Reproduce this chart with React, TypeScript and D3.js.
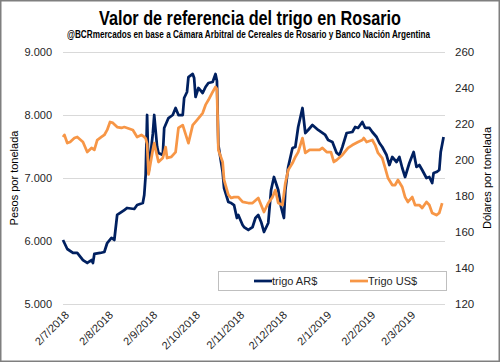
import React, { Component } from "react";
import * as d3 from "d3";

// Pesos per tonne (left axis)
const arsSeries: [string, number][] = [
  ["2018-07-02", 6016], ["2018-07-05", 5873], ["2018-07-09", 5810], ["2018-07-12", 5810],
  ["2018-07-16", 5698], ["2018-07-19", 5651], ["2018-07-22", 5698], ["2018-07-23", 5651],
  ["2018-07-24", 5794], ["2018-07-28", 5810], ["2018-07-31", 5825], ["2018-08-02", 5968],
  ["2018-08-05", 6048], ["2018-08-07", 6016], ["2018-08-09", 6413], ["2018-08-14", 6492],
  ["2018-08-16", 6524], ["2018-08-21", 6508], ["2018-08-23", 6571], ["2018-08-27", 6603],
  ["2018-08-28", 6730], ["2018-08-29", 7050], ["2018-08-30", 8000], ["2018-08-31", 7080],
  ["2018-09-03", 7700], ["2018-09-04", 8000], ["2018-09-05", 7750], ["2018-09-06", 7500],
  ["2018-09-07", 7397], ["2018-09-10", 7365], ["2018-09-11", 7794], ["2018-09-14", 7952],
  ["2018-09-17", 8000], ["2018-09-19", 8111], ["2018-09-21", 8000], ["2018-09-24", 8000],
  ["2018-09-25", 8270], ["2018-09-27", 8365], ["2018-09-28", 8603], ["2018-10-01", 8651],
  ["2018-10-02", 8587], ["2018-10-03", 8286], ["2018-10-05", 8429], ["2018-10-08", 8349],
  ["2018-10-10", 8444], ["2018-10-12", 8508], ["2018-10-15", 8524], ["2018-10-17", 8651],
  ["2018-10-18", 8540], ["2018-10-19", 7524], ["2018-10-22", 7095], ["2018-10-23", 6841],
  ["2018-10-26", 6619], ["2018-10-28", 6603], ["2018-10-30", 6571], ["2018-11-01", 6365],
  ["2018-11-02", 6413], ["2018-11-05", 6254], ["2018-11-06", 6222], ["2018-11-09", 6175],
  ["2018-11-12", 6222], ["2018-11-14", 6365], ["2018-11-16", 6413], ["2018-11-18", 6302],
  ["2018-11-20", 6143], ["2018-11-23", 6286], ["2018-11-25", 6810], ["2018-11-27", 7016],
  ["2018-11-30", 6810], ["2018-12-02", 6540], ["2018-12-04", 6365], ["2018-12-05", 6810],
  ["2018-12-07", 7175], ["2018-12-10", 7476], ["2018-12-12", 7492], ["2018-12-14", 7810],
  ["2018-12-17", 8111], ["2018-12-19", 7714], ["2018-12-21", 7762], ["2018-12-24", 7841],
  ["2018-12-28", 7762], ["2019-01-02", 7683], ["2019-01-04", 7603], ["2019-01-07", 7571],
  ["2019-01-10", 7397], ["2019-01-12", 7365], ["2019-01-14", 7492], ["2019-01-17", 7714],
  ["2019-01-21", 7730], ["2019-01-23", 7810], ["2019-01-25", 7794], ["2019-01-28", 7889],
  ["2019-01-30", 7794], ["2019-02-02", 7794], ["2019-02-04", 7730], ["2019-02-07", 7651],
  ["2019-02-09", 7556], ["2019-02-11", 7492], ["2019-02-14", 7365], ["2019-02-16", 7206],
  ["2019-02-18", 7333], ["2019-02-21", 7254], ["2019-02-23", 7333], ["2019-02-25", 7159],
  ["2019-02-27", 7016], ["2019-03-02", 7238], ["2019-03-05", 7413], ["2019-03-07", 7175],
  ["2019-03-09", 7206], ["2019-03-11", 7127], ["2019-03-14", 7000], ["2019-03-16", 7016],
  ["2019-03-18", 6921], ["2019-03-19", 7079], ["2019-03-21", 7095], ["2019-03-23", 7127],
  ["2019-03-24", 7413], ["2019-03-26", 7651],
];

// Dollars per tonne (right axis)
const usdSeries: [string, number][] = [
  ["2018-07-02", 212.8], ["2018-07-03", 213.9], ["2018-07-05", 209.4], ["2018-07-07", 210],
  ["2018-07-10", 212.2], ["2018-07-12", 212.8], ["2018-07-16", 210], ["2018-07-19", 204.4],
  ["2018-07-22", 206.7], ["2018-07-24", 205.6], ["2018-07-26", 211.1], ["2018-07-29", 212.8],
  ["2018-07-31", 213.9], ["2018-08-02", 216.7], ["2018-08-04", 221.1], ["2018-08-06", 220.6],
  ["2018-08-09", 218.3], ["2018-08-12", 217.8], ["2018-08-14", 218.3], ["2018-08-16", 217.8],
  ["2018-08-20", 216.7], ["2018-08-23", 212.8], ["2018-08-26", 213.9], ["2018-08-28", 212.8],
  ["2018-08-29", 212], ["2018-08-30", 209], ["2018-08-31", 192], ["2018-09-03", 205.6],
  ["2018-09-04", 209.4], ["2018-09-07", 198.9], ["2018-09-10", 201.1], ["2018-09-12", 207.2],
  ["2018-09-13", 201.1], ["2018-09-16", 201.7], ["2018-09-19", 204.4], ["2018-09-21", 217.8],
  ["2018-09-24", 219.4], ["2018-09-28", 209.4], ["2018-10-01", 219.4], ["2018-10-04", 222.2],
  ["2018-10-08", 226.1], ["2018-10-10", 230.6], ["2018-10-12", 233.3], ["2018-10-15", 237.8],
  ["2018-10-17", 240.6], ["2018-10-18", 239.4], ["2018-10-19", 205.6], ["2018-10-22", 198.9],
  ["2018-10-23", 189], ["2018-10-26", 180.6], ["2018-10-28", 178.9], ["2018-10-30", 179.4],
  ["2018-11-02", 179.4], ["2018-11-05", 176.7], ["2018-11-09", 176.1], ["2018-11-12", 176.1],
  ["2018-11-16", 178.9], ["2018-11-20", 171.1], ["2018-11-23", 176.1], ["2018-11-26", 179.4],
  ["2018-11-28", 183.3], ["2018-11-30", 176.1], ["2018-12-03", 175], ["2018-12-05", 187.2],
  ["2018-12-07", 194.4], ["2018-12-10", 198.3], ["2018-12-12", 201.7], ["2018-12-14", 204.4],
  ["2018-12-17", 212.2], ["2018-12-19", 203.9], ["2018-12-22", 205.6], ["2018-12-26", 205.6],
  ["2018-12-29", 205.6], ["2018-12-31", 206.7], ["2019-01-03", 204.4], ["2019-01-06", 204.4],
  ["2019-01-08", 198.9], ["2019-01-10", 200], ["2019-01-14", 202.8], ["2019-01-18", 206.7],
  ["2019-01-21", 208.3], ["2019-01-25", 210], ["2019-01-28", 211.1], ["2019-01-29", 212.2],
  ["2019-01-31", 210], ["2019-02-04", 211.1], ["2019-02-06", 208.3], ["2019-02-08", 203.9],
  ["2019-02-11", 201.1], ["2019-02-13", 195.6], ["2019-02-15", 190], ["2019-02-18", 186.1],
  ["2019-02-20", 186.1], ["2019-02-22", 188.9], ["2019-02-25", 185], ["2019-02-27", 179.4],
  ["2019-03-01", 176.7], ["2019-03-04", 179.4], ["2019-03-06", 175], ["2019-03-09", 175],
  ["2019-03-11", 173.3], ["2019-03-14", 176.7], ["2019-03-16", 175], ["2019-03-18", 170.6],
  ["2019-03-21", 169.4], ["2019-03-23", 170.6], ["2019-03-25", 176.1],
];

const xTickDates = [
  "2018-07-02", "2018-08-02", "2018-09-02", "2018-10-02", "2018-11-02",
  "2018-12-02", "2019-01-02", "2019-02-02", "2019-03-02",
];
const leftTicks = [5000, 6000, 7000, 8000, 9000];
const rightTicks = [120, 140, 160, 180, 200, 220, 240, 260];
const seriesNames = ["trigo AR$", "Trigo US$"];

const NAVY = "#002060";
const ORANGE = "#F79646";
const FONT = "'Liberation Sans', Arial, sans-serif";

class App extends Component {
  svgRef = React.createRef<SVGSVGElement>();

  componentDidMount() {
    this.renderChart();
  }

  componentDidUpdate() {
    this.renderChart();
  }

  renderChart() {
    const svg = d3.select(this.svgRef.current);
    svg.selectAll("*").remove();

    const W = 500, H = 362;
    const plot = { left: 63, right: 445, top: 52, bottom: 304 };
    const parse = d3.timeParse("%Y-%m-%d");

    const ars = arsSeries.map(d => ({ date: parse(d[0]) as Date, v: d[1] }));
    const usd = usdSeries.map(d => ({ date: parse(d[0]) as Date, v: d[1] }));

    // scales
    const x = d3
      .scaleTime()
      .domain([new Date(2018, 6, 2), new Date(2019, 2, 27)])
      .range([plot.left, plot.right]);
    const yLeft = d3.scaleLinear().domain([5000, 9000]).range([plot.bottom, plot.top]);
    const yRight = d3.scaleLinear().domain([120, 260]).range([plot.bottom, plot.top]);

    const esLocale = d3.formatLocale({
      decimal: ",",
      thousands: ".",
      grouping: [3],
      currency: ["$", ""],
    });
    const fmtLeft = esLocale.format(",d");
    const fmtDate = d3.timeFormat("%-d/%-m/%Y");

    // background + outer border
    svg
      .append("rect")
      .attr("x", 0.75)
      .attr("y", 0.75)
      .attr("width", W - 1.5)
      .attr("height", H - 1.5)
      .attr("fill", "#fff")
      .attr("stroke", "#7f7f7f")
      .attr("stroke-width", 1.5);

    // titles
    svg
      .append("text")
      .attr("x", W / 2)
      .attr("y", 25)
      .attr("text-anchor", "middle")
      .attr("font-family", "'Liberation Sans Narrow', 'Arial Narrow', " + FONT)
      .attr("font-weight", "bold")
      .attr("font-size", 21)
      .attr("textLength", 302)
      .attr("lengthAdjust", "spacingAndGlyphs")
      .attr("fill", "#000")
      .text("Valor de referencia del trigo en Rosario");

    svg
      .append("text")
      .attr("x", 248.5)
      .attr("y", 38)
      .attr("text-anchor", "middle")
      .attr("font-family", "'Liberation Sans Narrow', 'Arial Narrow', " + FONT)
      .attr("font-weight", "bold")
      .attr("font-size", 10)
      .attr("textLength", 363)
      .attr("lengthAdjust", "spacingAndGlyphs")
      .attr("fill", "#000")
      .text("@BCRmercados en base a Cámara Arbitral de Cereales de Rosario y Banco Nación  Argentina");

    // gridlines (left axis)
    svg
      .append("g")
      .selectAll("line")
      .data(leftTicks)
      .join("line")
      .attr("x1", plot.left)
      .attr("x2", plot.right)
      .attr("y1", d => Math.round(yLeft(d)) + 0.5)
      .attr("y2", d => Math.round(yLeft(d)) + 0.5)
      .attr("stroke", "#d9d9d9")
      .attr("stroke-width", 1);

    // left axis labels
    const leftAxis = svg
      .append("g")
      .attr("transform", `translate(${plot.left},0)`)
      .call(d3.axisLeft(yLeft).tickValues(leftTicks).tickSize(0).tickPadding(11).tickFormat(d => fmtLeft(d as number)));
    leftAxis.select(".domain").remove();
    leftAxis
      .selectAll("text")
      .attr("font-family", FONT)
      .attr("font-size", 11)
      .attr("fill", "#262626");

    // right axis labels
    const rightAxis = svg
      .append("g")
      .attr("transform", `translate(${plot.right},0)`)
      .call(d3.axisRight(yRight).tickValues(rightTicks).tickSize(0).tickPadding(10));
    rightAxis.select(".domain").remove();
    rightAxis
      .selectAll("text")
      .attr("font-family", FONT)
      .attr("font-size", 11.5)
      .attr("fill", "#262626");

    // x labels rotated -45
    svg
      .append("g")
      .selectAll("text")
      .data(xTickDates.map(d => parse(d) as Date))
      .join("text")
      .attr("transform", d => `translate(${x(d) + 4},${plot.bottom + 9}) rotate(-45)`)
      .attr("text-anchor", "end")
      .attr("dy", "0.35em")
      .attr("font-family", FONT)
      .attr("font-size", 11)
      .attr("fill", "#262626")
      .text(d => fmtDate(d));

    // axis titles
    svg
      .append("text")
      .attr("transform", `translate(18,${(plot.top + plot.bottom) / 2}) rotate(-90)`)
      .attr("text-anchor", "middle")
      .attr("font-family", FONT)
      .attr("font-size", 11)
      .attr("fill", "#000")
      .text("Pesos por tonelada");

    svg
      .append("text")
      .attr("transform", `translate(491,${(plot.top + plot.bottom) / 2}) rotate(-90)`)
      .attr("text-anchor", "middle")
      .attr("font-family", FONT)
      .attr("font-size", 11)
      .attr("fill", "#000")
      .text("Dólares por tonelada");

    // lines
    const lineLeft = d3
      .line<{ date: Date; v: number }>()
      .x(d => x(d.date))
      .y(d => yLeft(d.v));
    const lineRight = d3
      .line<{ date: Date; v: number }>()
      .x(d => x(d.date))
      .y(d => yRight(d.v));

    svg
      .append("path")
      .datum(ars)
      .attr("d", lineLeft)
      .attr("fill", "none")
      .attr("stroke", NAVY)
      .attr("stroke-width", 2.75)
      .attr("stroke-linejoin", "round");

    svg
      .append("path")
      .datum(usd)
      .attr("d", lineRight)
      .attr("fill", "none")
      .attr("stroke", ORANGE)
      .attr("stroke-width", 2.75)
      .attr("stroke-linejoin", "round");

    // legend
    const legend = svg.append("g");
    legend
      .append("rect")
      .attr("x", 218.5)
      .attr("y", 271.5)
      .attr("width", 228)
      .attr("height", 19)
      .attr("fill", "#fff")
      .attr("stroke", "#bfbfbf");

    const legendItems = [
      { name: seriesNames[0], color: NAVY, x: 254 },
      { name: seriesNames[1], color: ORANGE, x: 350 },
    ];
    legendItems.forEach(it => {
      legend
        .append("line")
        .attr("x1", it.x)
        .attr("x2", it.x + 18)
        .attr("y1", 281)
        .attr("y2", 281)
        .attr("stroke", it.color)
        .attr("stroke-width", 2.75);
      legend
        .append("text")
        .attr("x", it.x + 18)
        .attr("y", 281)
        .attr("dy", "0.35em")
        .attr("font-family", FONT)
        .attr("font-size", 11)
        .attr("fill", "#262626")
        .text(it.name);
    });
  }

  render() {
    return (
      <svg
        ref={this.svgRef}
        width={500}
        height={362}
        style={{ position: "absolute", left: 0, top: 0, display: "block" }}
      />
    );
  }
}

export default App;
